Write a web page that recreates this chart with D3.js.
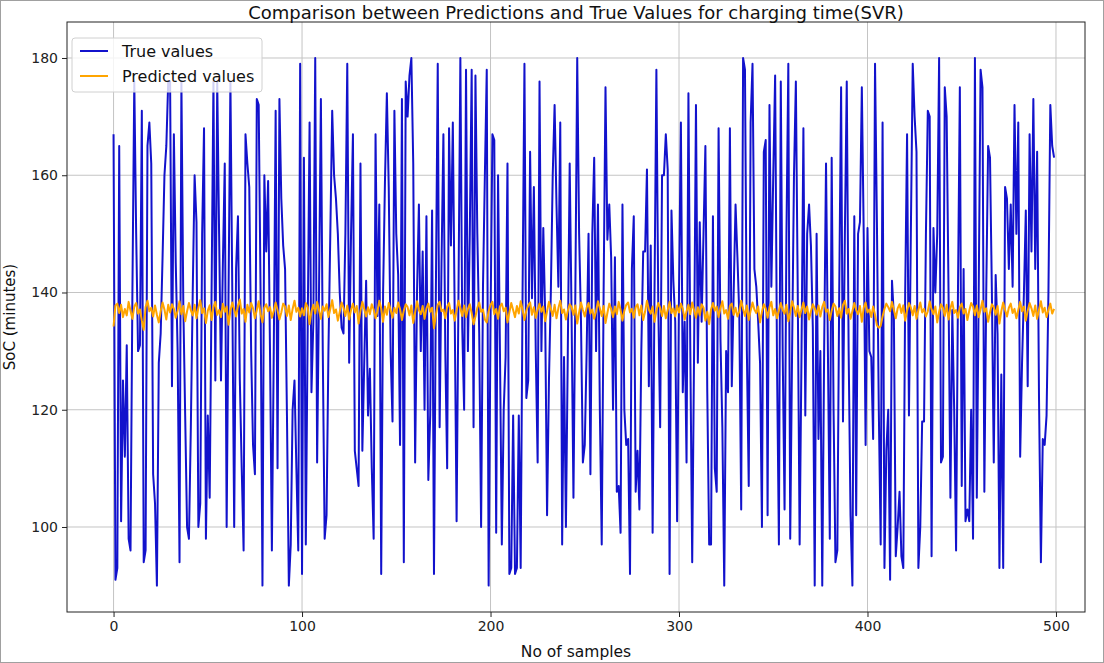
<!DOCTYPE html>
<html>
<head>
<meta charset="utf-8">
<script src="https://cdn.jsdelivr.net/npm/d3@7"></script>
<style>
  body { margin: 0; background: #fff; }
  svg { display: block; font-family: "DejaVu Sans", sans-serif; }
</style>
</head>
<body>
<div id="chart"></div>
<script>
// True charging time (minutes), sample 0..499
let trueValues = [
  167, 91, 93, 165, 101, 125, 112, 131, 98, 96, 140, 176, 150, 130, 131, 171, 94, 96, 165, 169,
  162, 109, 104, 90, 128, 133, 146, 160, 165, 176, 176, 124, 167, 145, 130, 94, 176, 138, 119, 100, 98,
  117, 140, 160, 152, 100, 104, 150, 168, 98, 119, 105, 140, 176, 125, 176, 150, 125, 145, 162, 100,
  140, 176, 140, 100, 144, 153, 125, 110, 96, 167, 162, 158, 130, 114, 109, 173, 172, 140, 90, 160, 147, 159,
  130, 96, 130, 171, 110, 173, 156, 148, 144, 119, 90, 97, 120, 125, 110, 96, 179, 92, 163, 97,
  134, 169, 123, 135, 180, 111, 140, 173, 130, 98, 102, 130, 150, 171, 160, 156, 150, 140, 134, 133, 150, 179, 128,
  150, 167, 113, 110, 107, 162, 113, 128, 142, 119, 127, 110, 98, 167, 136, 155, 92, 140, 159, 174,
  158, 130, 118, 171, 150, 143, 114, 173, 94, 176, 170, 177, 180, 162, 111, 140, 155, 130, 147, 120, 153, 108,
  119, 154, 92, 140, 179, 117, 145, 167, 130, 110, 168, 148, 169, 136, 101, 140, 180, 134, 120, 178,
  130, 150, 178, 117, 177, 150, 133, 100, 141, 160, 178, 90, 135, 167, 166, 99, 160, 130, 97, 120, 129, 162, 92,
  93, 119, 92, 93, 119, 93, 140, 179, 122, 125, 164, 139, 158, 130, 111, 176, 130, 151, 136, 102,
  125, 140, 160, 172, 155, 141, 169, 97, 129, 100, 130, 162, 136, 105, 140, 180, 150, 135, 111, 114, 130, 150,
  109, 150, 163, 130, 155, 120, 97, 140, 175, 149, 155, 146, 120, 146, 106, 107, 99, 155, 120, 114,
  115, 92, 144, 153, 106, 113, 103, 130, 147, 147, 161, 124, 148, 99, 140, 178, 138, 117, 160, 160, 167, 161, 92,
  154, 142, 135, 101, 140, 169, 123, 135, 111, 174, 130, 94, 130, 172, 128, 152, 135, 150, 165, 123,
  97, 97, 153, 110, 106, 168, 132, 117, 90, 130, 123, 168, 124, 140, 155, 146, 136, 103, 180, 178, 130, 107,
  169, 179, 144, 141, 135, 128, 100, 164, 166, 102, 172, 141, 160, 177, 128, 97, 176, 130, 103, 150,
  179, 98, 130, 160, 176, 140, 97, 130, 168, 119, 150, 155, 148, 134, 90, 150, 115, 130, 90, 130, 162, 130, 98,
  163, 120, 94, 96, 140, 175, 118, 150, 176, 130, 102, 90, 153, 102, 150, 152, 175, 150, 114, 151,
  130, 129, 115, 179, 152, 120, 97, 169, 93, 113, 120, 91, 142, 136, 95, 100, 106, 95, 93, 140, 167, 119,
  150, 179, 170, 164, 93, 100, 118, 118, 150, 171, 170, 95, 151, 140, 150, 180, 111, 112, 175, 170,
  140, 105, 137, 120, 96, 140, 175, 107, 144, 101, 103, 101, 120, 98, 180, 105, 140, 178, 175, 106, 140, 165,
  163, 140, 111, 143, 133, 93, 126, 93, 158, 156, 144, 155, 141, 172, 150, 169, 112, 128, 140, 154,
  124, 167, 147, 173, 144, 164, 122, 94, 115, 114, 119, 140, 172, 165, 163
];

// SVR predictions (minutes), sample 0..499
let predictedValues = [
  134.2, 137.8, 138.1, 136.5, 137.9, 135.8, 137.2, 136.1, 138.4, 136.9, 135.5, 137.6, 138.2, 136.4, 137.1, 135.2, 133.6, 137.5, 138.6, 136.8, 137.4, 135.9, 137.8, 136.2, 134.9,
  136.8, 138.3, 137.1, 135.4, 137.9, 136.6, 138.0, 137.2, 135.7, 136.9, 138.5, 136.3, 137.7, 135.1, 136.8, 138.2, 137.0, 136.1, 137.9, 135.6, 137.4, 138.7, 136.5, 137.3, 134.8,
  136.9, 137.8, 135.3, 137.5, 138.4, 136.2, 137.0, 135.8, 138.1, 136.7, 137.6, 134.5, 136.9, 138.3, 137.1, 135.9, 137.7, 138.8, 136.4, 137.2, 135.0, 137.9, 136.6, 138.2, 137.3,
  135.6, 137.0, 138.5, 136.3, 134.9, 137.4, 138.0, 136.8, 137.5, 135.7, 136.9, 138.3, 137.0, 135.4, 136.6, 138.1, 137.6, 136.0, 137.8, 135.3, 137.2, 138.6, 136.7, 137.4, 135.9,
  137.3, 136.1, 138.2, 137.5, 134.6, 136.8, 137.9, 136.4, 138.4, 137.0, 135.5, 137.6, 136.9, 138.0, 135.8, 137.2, 138.7, 136.5, 137.1, 135.2, 136.7, 138.3, 137.4, 136.0, 137.8,
  135.4, 137.0, 138.1, 136.6, 137.7, 134.7, 136.9, 138.4, 137.2, 135.9, 137.5, 136.3, 138.0, 137.1, 135.6, 136.8, 138.6, 137.3, 135.0, 137.6, 136.2, 138.2, 137.0, 135.7, 137.4,
  136.5, 138.3, 137.2, 135.3, 136.9, 138.0, 137.5, 136.1, 137.8, 134.8, 136.6, 138.5, 137.0, 136.3, 137.7, 135.5, 137.3, 138.1, 136.7, 137.4, 133.9, 136.2, 137.9, 138.4, 136.8,
  137.1, 135.6, 137.6, 138.2, 136.4, 137.0, 135.2, 136.9, 138.6, 137.3, 136.0, 137.8, 135.8, 137.2, 138.0, 136.5, 134.6, 135.9, 137.4, 138.3, 136.7, 137.1, 135.4, 134.9, 136.8,
  137.9, 138.4, 136.3, 137.2, 135.5, 137.6, 138.1, 136.8, 137.4, 134.9, 136.6, 138.2, 137.0, 135.8, 137.7, 136.4, 138.5, 137.1, 135.3, 136.9, 137.8, 138.3, 136.2, 137.5, 135.7,
  137.0, 138.1, 136.7, 137.6, 135.1, 136.8, 138.4, 137.2, 136.0, 137.9, 135.6, 137.3, 138.6, 136.5, 137.1, 135.4, 136.9, 138.0, 137.5, 136.2, 137.8, 134.7, 136.6, 138.3, 137.0,
  135.9, 137.4, 138.2, 136.4, 137.1, 135.5, 136.8, 138.5, 137.3, 136.0, 137.7, 134.8, 136.5, 138.1, 137.2, 135.8, 137.6, 136.3, 138.4, 137.0, 135.2, 136.9, 137.9, 138.3, 136.6,
  137.2, 135.7, 137.5, 138.0, 136.1, 137.8, 135.3, 136.7, 138.6, 137.1, 136.4, 137.6, 135.0, 136.9, 138.2, 137.4, 136.0, 137.7, 135.6, 137.0, 138.4, 136.5, 137.3, 135.9, 137.8,
  136.6, 138.1, 137.2, 135.4, 136.8, 137.9, 136.3, 138.3, 137.0, 135.7, 137.5, 136.1, 138.0, 137.4, 135.2, 136.7, 134.6, 137.1, 138.2, 136.9, 137.6, 135.8, 137.3, 138.5, 136.4,
  137.0, 135.5, 137.7, 138.1, 136.2, 137.4, 135.9, 136.8, 138.6, 137.2, 136.0, 137.8, 135.3, 136.9, 138.3, 137.1, 136.5, 137.6, 134.9, 136.7, 138.0, 137.3, 135.7, 137.5, 138.4,
  136.1, 137.2, 135.6, 136.9, 138.2, 137.0, 136.4, 137.9, 135.1, 136.6, 138.5, 137.4, 136.0, 137.7, 135.8, 137.1, 138.3, 136.5, 137.6, 135.4, 136.8, 138.0, 137.3, 136.2, 137.8,
  135.9, 137.5, 138.4, 136.7, 137.1, 135.3, 136.9, 138.1, 137.6, 136.0, 137.3, 135.7, 137.9, 138.6, 136.4, 137.2, 135.5, 136.8, 138.2, 137.0, 136.3, 137.7, 135.0, 137.4, 138.3,
  136.6, 137.1, 135.8, 137.6, 136.2, 134.4, 134.0, 134.3, 135.9, 137.2, 138.1, 137.5, 136.8, 138.4, 137.0, 135.6, 137.3, 138.0, 136.5, 137.8, 135.2, 136.9, 138.2, 137.4, 136.1,
  137.7, 135.5, 137.0, 138.3, 136.6, 137.2, 135.9, 136.8, 138.5, 137.1, 136.3, 137.6, 134.9, 136.7, 138.0, 137.4, 136.0, 137.9, 135.4, 137.3, 138.4, 136.5, 137.0, 135.7, 137.5,
  138.1, 136.4, 137.2, 135.3, 136.9, 138.2, 137.6, 136.1, 137.8, 135.8, 137.1, 138.6, 136.7, 137.3, 135.0, 136.6, 138.0, 137.5, 136.2, 137.7, 134.7, 136.8, 138.3, 137.0, 135.9,
  137.4, 138.1, 136.5, 137.2, 135.6, 137.0, 138.4, 136.8, 137.6, 135.2, 136.9, 138.2, 137.3, 136.0, 137.8, 135.5, 137.1, 138.5, 136.6, 137.4, 135.8, 137.0, 138.1, 136.4, 137.2
];

let xTicks = [0, 100, 200, 300, 400, 500];
let yTicks = [100, 120, 140, 160, 180];
let seriesNames = ["True values", "Predicted values"];
let seriesColors = ["#1212cc", "#ffa500"];

let width = 1104, height = 663;
let plot = {left: 67, right: 1085, top: 22, bottom: 612};

let svg = d3.select("#chart")
            .append("svg")
            .attr("width", width)
            .attr("height", height);

svg.append("rect")
   .attr("x", 0).attr("y", 0)
   .attr("width", width).attr("height", height)
   .style("fill", "#fff");

let x = d3.scaleLinear()
          .domain([-24.7, 515.4])
          .range([plot.left, plot.right]);

let y = d3.scaleLinear()
          .domain([85.5, 186.14])
          .range([plot.bottom, plot.top]);

// grid
svg.append("g")
   .selectAll("line")
   .data(xTicks)
   .enter()
   .append("line")
   .attr("x1", d => x(d)).attr("x2", d => x(d))
   .attr("y1", plot.top).attr("y2", plot.bottom)
   .style("stroke", "#c4c4c4")
   .style("stroke-width", 1);

svg.append("g")
   .selectAll("line")
   .data(yTicks)
   .enter()
   .append("line")
   .attr("x1", plot.left).attr("x2", plot.right)
   .attr("y1", d => y(d)).attr("y2", d => y(d))
   .style("stroke", "#c4c4c4")
   .style("stroke-width", 1);

// lines
let line = d3.line()
             .x((d, i) => x(i))
             .y(d => y(d));

svg.append("path")
   .datum(trueValues)
   .attr("d", line)
   .style("fill", "none")
   .style("stroke", seriesColors[0])
   .style("stroke-width", 2)
   .style("stroke-linejoin", "round");

svg.append("path")
   .datum(predictedValues)
   .attr("d", line)
   .style("fill", "none")
   .style("stroke", seriesColors[1])
   .style("stroke-width", 2)
   .style("stroke-linejoin", "round");

// axes
let xAxis = svg.append("g")
   .attr("transform", "translate(0," + plot.bottom + ")")
   .call(d3.axisBottom(x).tickValues(xTicks).tickSize(5).tickPadding(4).tickSizeOuter(0));

let yAxis = svg.append("g")
   .attr("transform", "translate(" + plot.left + ",0)")
   .call(d3.axisLeft(y).tickValues(yTicks).tickSize(5).tickPadding(4).tickSizeOuter(0));

[xAxis, yAxis].forEach(function(g) {
  g.select(".domain").remove();
  g.selectAll("text")
   .style("font-family", "DejaVu Sans, sans-serif")
   .style("font-size", "14px")
   .style("fill", "#222");
  g.selectAll("line").style("stroke", "#222");
});

svg.append("rect")
   .attr("x", plot.left).attr("y", plot.top)
   .attr("width", plot.right - plot.left)
   .attr("height", plot.bottom - plot.top)
   .style("fill", "none")
   .style("stroke", "#222")
   .style("stroke-width", 1);

// titles
svg.append("text")
   .attr("x", (plot.left + plot.right) / 2)
   .attr("y", 19)
   .attr("text-anchor", "middle")
   .style("font-size", "18px")
   .style("fill", "#111")
   .text("Comparison between Predictions and True Values for charging time(SVR)");

svg.append("text")
   .attr("x", (plot.left + plot.right) / 2)
   .attr("y", 657)
   .attr("text-anchor", "middle")
   .style("font-size", "15.5px")
   .style("fill", "#111")
   .text("No of samples");

svg.append("text")
   .attr("transform", "translate(15," + ((plot.top + plot.bottom) / 2) + ") rotate(-90)")
   .attr("text-anchor", "middle")
   .style("font-size", "15px")
   .style("fill", "#111")
   .text("SoC (minutes)");

// legend
let legend = svg.append("g")
   .attr("transform", "translate(72,38)");

legend.append("rect")
   .attr("width", 190).attr("height", 54)
   .attr("rx", 3)
   .style("fill", "#fff")
   .style("fill-opacity", 0.8)
   .style("stroke", "#d0d0d0");

seriesNames.forEach(function(name, i) {
  legend.append("line")
     .attr("x1", 8).attr("x2", 36)
     .attr("y1", 13 + i * 25).attr("y2", 13 + i * 25)
     .style("stroke", seriesColors[i])
     .style("stroke-width", 2);
  legend.append("text")
     .attr("x", 50).attr("y", 19 + i * 25)
     .style("font-size", "16px")
     .style("fill", "#111")
     .text(name);
});

// frame round the picture
svg.append("rect")
   .attr("x", 0.5).attr("y", 0.5)
   .attr("width", width - 1).attr("height", height - 1)
   .style("fill", "none")
   .style("stroke", "#a0a0a0");
</script>
</body>
</html>
